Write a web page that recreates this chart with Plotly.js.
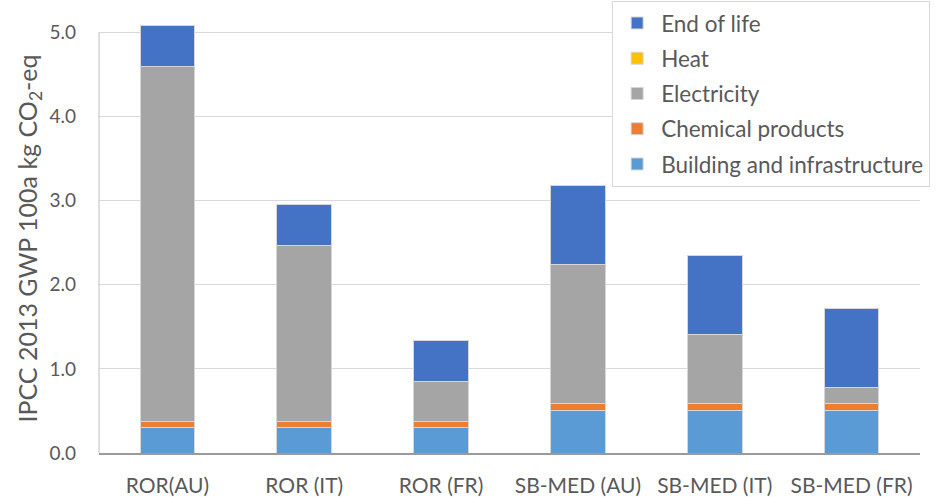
<!DOCTYPE html>
<html>
<head>
<meta charset="utf-8">
<script src="https://cdn.plot.ly/plotly-3.0.1.min.js"></script>
<style>html,body{margin:0;padding:0;background:#fff;}#chart{width:937px;height:497px;}</style>
</head>
<body>
<div id="chart"></div>
<script>
const categories = ["ROR(AU)", "ROR (IT)", "ROR (FR)", "SB-MED (AU)", "SB-MED (IT)", "SB-MED (FR)"];
const building = [0.30, 0.30, 0.30, 0.50, 0.50, 0.50];
const chemical = [0.07, 0.07, 0.07, 0.09, 0.09, 0.09];
const electricity = [4.23, 2.10, 0.48, 1.65, 0.82, 0.19];
const heat = [0, 0, 0, 0, 0, 0];
const endOfLife = [0.48, 0.49, 0.49, 0.94, 0.94, 0.94];
const yTicks = [0, 1, 2, 3, 4, 5];
const yTickText = ["0.0", "1.0", "2.0", "3.0", "4.0", "5.0"];

const series = [
  {name: "Building and infrastructure", y: building, color: "#5B9BD5"},
  {name: "Chemical products", y: chemical, color: "#ED7D31"},
  {name: "Electricity", y: electricity, color: "#A5A5A5"},
  {name: "Heat", y: heat, color: "#FFC000"},
  {name: "End of life", y: endOfLife, color: "#4472C4"}
];

const traces = series.map((s, i) => ({
  type: "bar",
  x: categories,
  y: s.y,
  name: s.name,
  legendgroup: "g" + i,
  legendrank: 100 - i,
  marker: {color: s.color, line: {color: "#d6d6d6", width: 1}},
  hoverinfo: "x+y+name"
}));

const layout = {
  width: 937,
  height: 497,
  margin: {l: 99, r: 17, t: 24, b: 44, autoexpand: false},
  paper_bgcolor: "#ffffff",
  plot_bgcolor: "#ffffff",
  barmode: "stack",
  bargap: 0.6,
  font: {family: "Lato, 'Open Sans', sans-serif", color: "#595959"},
  xaxis: {
    type: "category",
    showline: true,
    linecolor: "#9a9a9a",
    linewidth: 1.5,
    ticks: "",
    tickfont: {size: 21, color: "#595959"},
    ticklabelstandoff: 13,
    showgrid: false,
    zeroline: false
  },
  yaxis: {
    range: [0, 5.1],
    tickvals: yTicks,
    ticktext: yTickText,
    tickfont: {size: 19, color: "#595959"},
    showgrid: true,
    gridcolor: "#d9d9d9",
    gridwidth: 1,
    showline: false,
    zeroline: false,
    ticks: "",
    ticklabelstandoff: 22,
    title: {text: "IPCC 2013 GWP 100a kg CO<sub>2</sub>-eq", font: {size: 25, color: "#595959"}, standoff: 4}
  },
  shapes: [{
    type: "line", xref: "paper", yref: "y",
    x0: 0, x1: 0, y0: 0, y1: 5,
    line: {color: "#bfbfbf", width: 1}
  }],
  legend: {
    traceorder: "grouped",
    tracegroupgap: 3,
    itemwidth: 38,
    x: 0.625, y: 1.054,
    xanchor: "left", yanchor: "top",
    bgcolor: "#ffffff",
    bordercolor: "#d9d9d9",
    borderwidth: 1,
    font: {size: 22.5, color: "#595959"}
  },
  showlegend: true
};

Plotly.newPlot("chart", traces, layout, {displayModeBar: false, staticPlot: true});
</script>
</body>
</html>
